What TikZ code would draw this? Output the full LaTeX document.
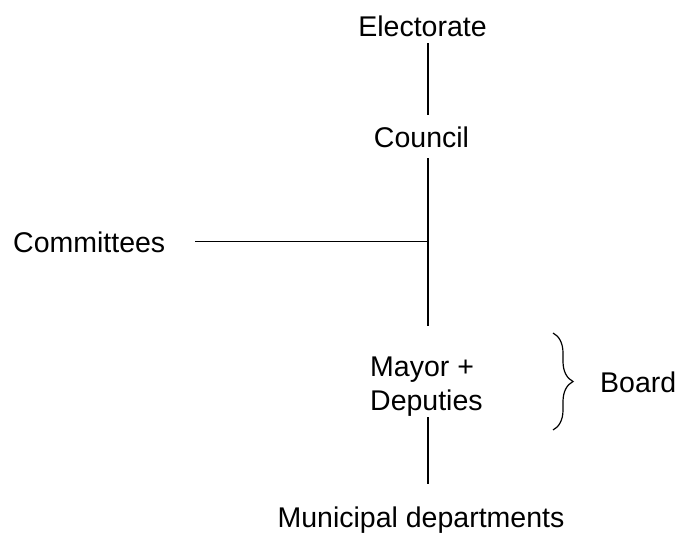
\documentclass[tikz,border=0pt]{standalone}
\usepackage{fontspec}
\setmainfont{Liberation Sans}
\usetikzlibrary{decorations.pathreplacing,calc}
\begin{document}
\begin{tikzpicture}[x=1pt,y=-1pt,
  lbl/.style={inner sep=0pt, font=\fontsize{28.5}{34}\selectfont},
  conn/.style={line width=1.2pt}]
\useasboundingbox (0,0) rectangle (679,532);
\coordinate (spine) at (428,0);
\node[lbl, anchor=base] (electorate) at (422.5,37) {Electorate};
\node[lbl, anchor=base] (council) at (421.5,147) {Council};
\node[lbl, anchor=base west] (committees) at (13,252) {Committees};
\node[lbl, anchor=base west] (mayor) at (370,376) {Mayor +};
\node[lbl, anchor=base west] (deputies) at (370,410) {Deputies};
\node[lbl, anchor=base west] (board) at (600,392) {Board};
\node[lbl, anchor=base] (departments) at (421,527) {Municipal departments};
\draw[conn] ($(electorate.south -| spine)+(0,6)$) -- ($(council.north -| spine)+(0,-11)$);
\draw[conn] ($(council.south -| spine)+(0,11)$) -- ($(mayor.north -| spine)+(0,-30)$);
\draw[conn] ([xshift=30pt]committees.east) -- (committees.east -| spine);
\draw[conn] ($(deputies.south -| spine)+(0,1)$) -- ($(departments.north -| spine)+(0,-22)$);
\coordinate (bt) at (553,333);
\coordinate (bb) at (553,430);
\draw[conn, decorate, decoration={brace, amplitude=20pt}] (bt) -- (bb);
\end{tikzpicture}
\end{document}
